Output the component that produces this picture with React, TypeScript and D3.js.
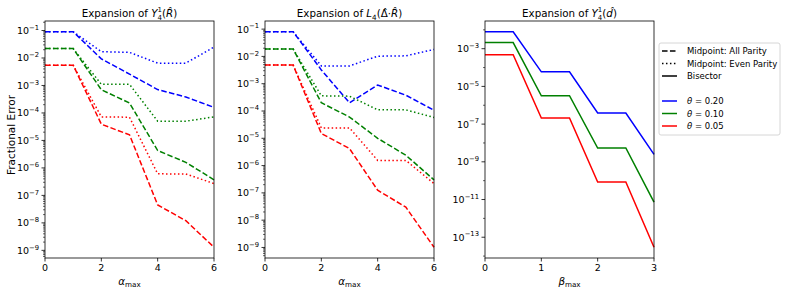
import React from 'react';
import * as d3 from 'd3';

// x values
const ALPHA = [0, 1, 2, 3, 4, 5, 6];
const BETA = [0, 0.5, 1, 1.5, 2, 2.5, 3];
const THETA_LABELS = ['0.20', '0.10', '0.05'];
const COLORS = ['#0000ff', '#008000', '#ff0000'];

// panel 1: Y_4^1(R), midpoint all parity (dashed)
const YR_ALL_020 = [0.09, 0.09, 9.3e-3, 2.6e-3, 7.1e-4, 3.8e-4, 1.6e-4];
const YR_ALL_010 = [0.022, 0.022, 7e-4, 2.3e-4, 4.3e-6, 1.6e-6, 3.7e-7];
const YR_ALL_005 = [5.5e-3, 5.5e-3, 3.9e-5, 1.6e-5, 4.5e-8, 1.2e-8, 1.3e-9];
// panel 1: midpoint even parity (dotted)
const YR_EVEN_020 = [0.09, 0.09, 0.017, 0.016, 6.5e-3, 6.5e-3, 0.025];
const YR_EVEN_010 = [0.022, 0.022, 1.1e-3, 1.1e-3, 5e-5, 5e-5, 7.2e-5];
const YR_EVEN_005 = [5.5e-3, 5.5e-3, 7.2e-5, 7e-5, 6.1e-7, 6e-7, 2.7e-7];

// panel 2: L_4(Delta . R)
const LD_ALL_020 = [0.08, 0.08, 3.2e-3, 2e-4, 9e-4, 3.8e-4, 1.07e-4];
const LD_ALL_010 = [0.0186, 0.0186, 2e-4, 6e-5, 1e-5, 2.4e-6, 3e-7];
const LD_ALL_005 = [4.8e-3, 4.8e-3, 1.5e-5, 4.2e-6, 1.25e-7, 3e-8, 1.02e-9];
const LD_EVEN_020 = [0.08, 0.08, 4.5e-3, 4.5e-3, 0.0102, 0.0105, 0.018];
const LD_EVEN_010 = [0.0186, 0.0186, 3.6e-4, 3.5e-4, 1.1e-4, 1.1e-4, 5.8e-5];
const LD_EVEN_005 = [4.8e-3, 4.8e-3, 2.4e-5, 2.4e-5, 1.55e-6, 1.55e-6, 2.2e-7];

// panel 3: Y_4^1(d), bisector (solid)
const YD_BIS_020 = [7.9e-3, 7.9e-3, 5.9e-5, 5.9e-5, 3.9e-7, 3.9e-7, 2.5e-9];
const YD_BIS_010 = [2.1e-3, 2.1e-3, 3.2e-6, 3.2e-6, 5.4e-9, 5.4e-9, 7.2e-12];
const YD_BIS_005 = [4.8e-4, 4.8e-4, 2.1e-7, 2.1e-7, 8.5e-11, 8.5e-11, 2.95e-14];

const FONT = 'DejaVu Sans, sans-serif';
const DASHED = '5.55 2.4';
const DOTTED = '1.5 2.475';
const TOP = 21;
const BOTTOM = 258;

type Series = { values: number[]; color: string; dash?: string };

const Panel = ({ left, right, xs, xMax, xTicks, series, title, xSym, oddOnly, yLabel }: any) => {
  const all = (series as Series[]).flatMap((s) => s.values).map(Math.log10);
  const lo = d3.min(all)!;
  const hi = d3.max(all)!;
  const pad = (hi - lo) * 0.05;
  const y = d3.scaleLog().domain([10 ** (hi + pad), 10 ** (lo - pad)]).range([TOP, BOTTOM]);
  const x = d3.scaleLinear().domain([0, xMax]).range([left, right]);
  const line = d3
    .line<number>()
    .x((_, i) => x(xs[i]))
    .y((d) => y(d));

  const eMin = Math.ceil(lo - pad);
  const eMax = Math.floor(hi + pad);
  const majors: number[] = [];
  const minors: number[] = [];
  for (let e = eMin; e <= eMax; e++) {
    if (oddOnly) {
      if (Math.abs(e) % 2 === 1) majors.push(e);
      else minors.push(10 ** e);
    } else majors.push(e);
  }
  if (!oddOnly) {
    for (let e = eMin - 1; e <= eMax; e++) {
      for (let k = 2; k <= 9; k++) {
        const v = k * 10 ** e;
        if (Math.log10(v) >= lo - pad && Math.log10(v) <= hi + pad) minors.push(v);
      }
    }
  }

  const cx = (left + right) / 2;
  return (
    <g fontFamily={FONT} fill="#000">
      {(series as Series[]).map((s, i) => (
        <path
          key={i}
          d={line(s.values) || ''}
          fill="none"
          stroke={s.color}
          strokeWidth={1.5}
          strokeDasharray={s.dash}
        />
      ))}
      {minors.map((v, i) => (
        <line key={'m' + i} x1={left - 2} x2={left} y1={y(v)} y2={y(v)} stroke="#000" strokeWidth={0.6} />
      ))}
      {majors.map((e) => (
        <g key={'M' + e}>
          <line x1={left - 3.5} x2={left} y1={y(10 ** e)} y2={y(10 ** e)} stroke="#000" strokeWidth={0.8} />
          <text x={left - 6} y={y(10 ** e) + 3.4} textAnchor="end" fontSize={9.5}>
            10<tspan dy={-4.2} fontSize={6.8}>{'\u2212' + Math.abs(e)}</tspan>
          </text>
        </g>
      ))}
      {xTicks.map((t: number) => (
        <g key={'x' + t}>
          <line x1={x(t)} x2={x(t)} y1={BOTTOM} y2={BOTTOM + 3.5} stroke="#000" strokeWidth={0.8} />
          <text x={x(t)} y={BOTTOM + 13} textAnchor="middle" fontSize={9.5}>
            {t}
          </text>
        </g>
      ))}
      <rect x={left} y={TOP} width={right - left} height={BOTTOM - TOP} fill="none" stroke="#000" strokeWidth={0.8} />
      <text x={cx} y={17} textAnchor="middle" fontSize={10.3}>
        {title}
      </text>
      <text x={cx} y={285} textAnchor="middle" fontSize={10.3}>
        <tspan fontStyle="italic">{xSym}</tspan>
        <tspan dy={2} fontSize={7.2}>max</tspan>
      </text>
      {yLabel && (
        <text transform={`translate(14.5,135) rotate(-90)`} textAnchor="middle" fontSize={10.5}>
          {yLabel}
        </text>
      )}
    </g>
  );
};

const App = () => {
  const p1: Series[] = [
    { values: YR_ALL_020, color: COLORS[0], dash: DASHED },
    { values: YR_EVEN_020, color: COLORS[0], dash: DOTTED },
    { values: YR_ALL_010, color: COLORS[1], dash: DASHED },
    { values: YR_EVEN_010, color: COLORS[1], dash: DOTTED },
    { values: YR_ALL_005, color: COLORS[2], dash: DASHED },
    { values: YR_EVEN_005, color: COLORS[2], dash: DOTTED },
  ];
  const p2: Series[] = [
    { values: LD_ALL_020, color: COLORS[0], dash: DASHED },
    { values: LD_EVEN_020, color: COLORS[0], dash: DOTTED },
    { values: LD_ALL_010, color: COLORS[1], dash: DASHED },
    { values: LD_EVEN_010, color: COLORS[1], dash: DOTTED },
    { values: LD_ALL_005, color: COLORS[2], dash: DASHED },
    { values: LD_EVEN_005, color: COLORS[2], dash: DOTTED },
  ];
  const p3: Series[] = [
    { values: YD_BIS_020, color: COLORS[0] },
    { values: YD_BIS_010, color: COLORS[1] },
    { values: YD_BIS_005, color: COLORS[2] },
  ];

  // Y with stacked superscript 1 and subscript 4
  const titleY = (arg: React.ReactNode) => (
    <>
      Expansion of <tspan fontStyle="italic">Y</tspan>
      <tspan dy={-5.2} fontSize={7}>1</tspan>
      <tspan dx={-4.45} dy={8.6} fontSize={7}>4</tspan>
      <tspan dy={-3.4}>(</tspan>
      {arg}
      <tspan>)</tspan>
    </>
  );

  const legendStyle = [
    { label: 'Midpoint: All Parity', color: '#000', dash: DASHED },
    { label: 'Midpoint: Even Parity', color: '#000', dash: DOTTED },
    { label: 'Bisector', color: '#000', dash: undefined },
  ];

  return (
    <svg width={789} height={291} style={{ position: 'absolute', left: 0, top: 0, background: '#fff' }}>
      <Panel
        left={45}
        right={214}
        xs={ALPHA}
        xMax={6}
        xTicks={[0, 2, 4, 6]}
        series={p1}
        xSym={'\u03b1'}
        yLabel="Fractional Error"
        title={titleY(<tspan fontStyle="italic">{'R\u0302'}</tspan>)}
      />
      <Panel
        left={265}
        right={434}
        xs={ALPHA}
        xMax={6}
        xTicks={[0, 2, 4, 6]}
        series={p2}
        xSym={'\u03b1'}
        title={
          <>
            Expansion of <tspan fontStyle="italic">L</tspan>
            <tspan dy={2.5} fontSize={7.2}>4</tspan>
            <tspan dy={-2.5}>{'(\u0394\u0302\u00b7'}</tspan>
            <tspan fontStyle="italic">{'R\u0302'}</tspan>
            <tspan>)</tspan>
          </>
        }
      />
      <Panel
        left={485}
        right={654}
        xs={BETA}
        xMax={3}
        xTicks={[0, 1, 2, 3]}
        series={p3}
        xSym={'\u03b2'}
        oddOnly
        title={titleY(<tspan fontStyle="italic">{'d\u0302'}</tspan>)}
      />
      <g fontFamily={FONT} fontSize={8.5}>
        <rect x={659} y={43} width={121} height={92} rx={2} fill="#fff" fillOpacity={0.8} stroke="#cccccc" strokeWidth={0.8} />
        {legendStyle.map((d, i) => (
          <g key={d.label} transform={`translate(662,${51 + i * 12.5})`}>
            <line x1={0} x2={15} y1={0} y2={0} stroke={d.color} strokeWidth={1.5} strokeDasharray={d.dash} />
            <text x={25} y={3} fill="#000">
              {d.label}
            </text>
          </g>
        ))}
        {THETA_LABELS.map((t, i) => (
          <g key={t} transform={`translate(662,${101 + i * 12.5})`}>
            <line x1={0} x2={15} y1={0} y2={0} stroke={COLORS[i]} strokeWidth={1.5} />
            <text x={25} y={3} fill="#000">
              <tspan fontStyle="italic">{'\u03b8'}</tspan>
              {' = ' + t}
            </text>
          </g>
        ))}
      </g>
    </svg>
  );
};

export default App;
